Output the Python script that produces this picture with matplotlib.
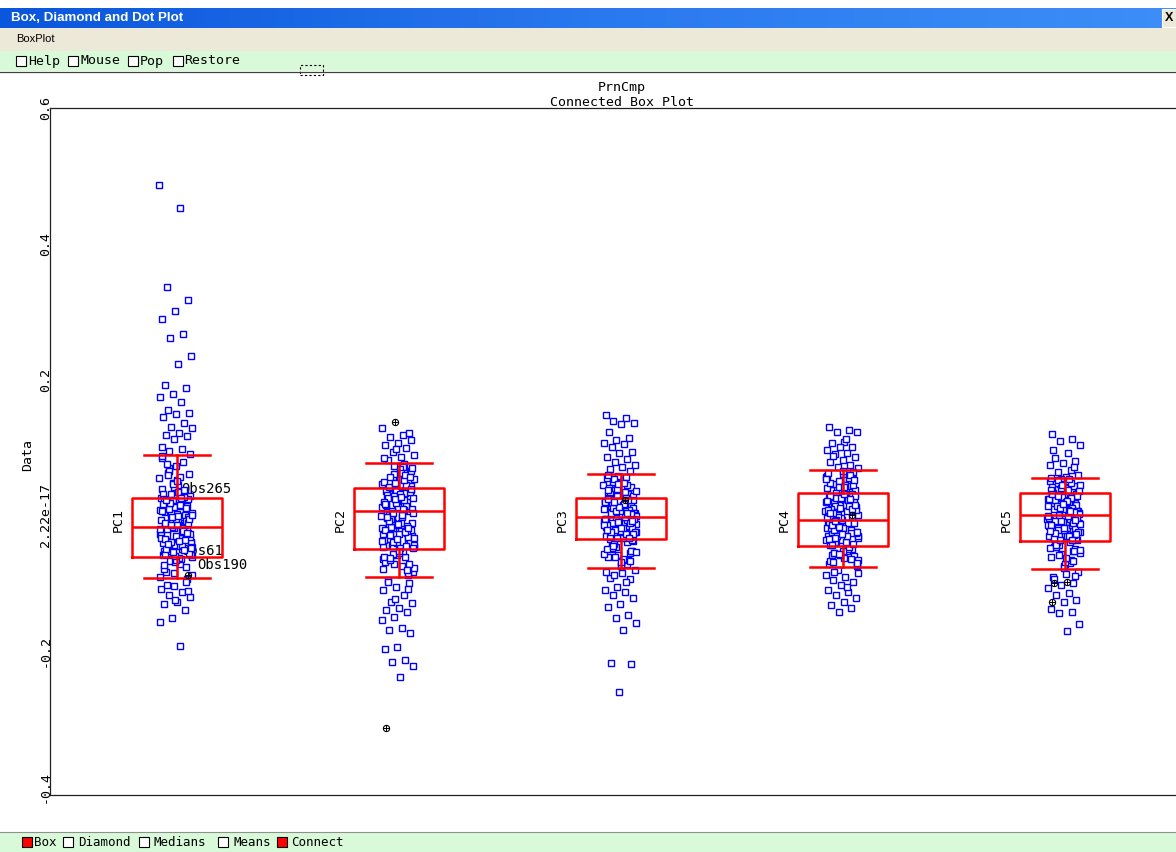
"""Box, Diamond and Dot Plot - recriação do gráfico PrnCmp (Connected Box Plot)."""

import matplotlib
matplotlib.use("Agg")
import matplotlib.pyplot as plt
import numpy as np
from matplotlib.patches import Rectangle

# ---------------------------------------------------------------- dados
GRUPOS = ["PC1", "PC2", "PC3", "PC4", "PC5"]

PC1 = [
    0.487, 0.453, 0.336, 0.317, 0.301, 0.289, 0.267, 0.261, 0.235, 0.223,
    0.192, 0.188, 0.179, 0.174, 0.167, 0.155, 0.151, 0.149, 0.145, 0.136,
    0.130, 0.129, 0.121, 0.118, 0.117, 0.113, 0.101, 0.098, 0.095,
    0.091, 0.052, -0.013, 0.034, -0.047, 0.008, -0.071, 0.063, -0.026, 0.017,
    -0.058, 0.079, -0.004, -0.039, 0.044, -0.083, 0.011, -0.019, 0.026, -0.064,
    0.069, -0.031, 0.002, -0.052, 0.038, -0.009, -0.088, 0.057, -0.022, 0.014,
    -0.043, 0.084, -0.016, -0.067, 0.029, -0.035, 0.005, -0.076, 0.048, -0.028,
    0.021, -0.055, -0.002, 0.073, -0.041, -0.011, 0.032, -0.061, 0.013, -0.024,
    -0.094, 0.041, -0.007, -0.049, 0.066, -0.033, 0.019, -0.079, 0.001, -0.017,
    0.055, -0.045, -0.021, 0.024, -0.069, 0.088, -0.037, 0.007, -0.059, 0.035,
    -0.012, -0.098, 0.046, -0.029, 0.016, -0.053, 0.061, -0.006, -0.073, 0.027,
    -0.039, 0.004, -0.063, 0.076, -0.019, -0.085, 0.039, -0.044, 0.010, -0.027,
    0.050, -0.057, -0.014, 0.022, -0.091, -0.034, 0.059, -0.003, -0.066, 0.031,
    -0.018, 0.003, -0.041, 0.020, -0.050, -0.008, 0.012, -0.033, -0.025, 0.009,
    -0.056, -0.015, 0.024, -0.037, -0.003, -0.046, 0.015, -0.029, -0.011, -0.060,
    0.006, -0.023, 0.018, -0.048, -0.001, -0.035, 0.011, -0.054, -0.020, 0.025,
    -0.042, -0.006, -0.031, 0.017, -0.051, -0.014, 0.001, -0.038, 0.023, -0.026,
    -0.104, -0.109, -0.113, -0.117, -0.121, -0.127, -0.131, -0.140, -0.151,
    -0.157, -0.193, -0.102, -0.112, -0.125,
]

PC2 = [
    0.129, 0.118, 0.116, 0.111, 0.107, 0.104, 0.099, 0.093, 0.089, 0.086,
    0.082, 0.121, 0.097, 0.084,
    0.075, 0.031, -0.012, 0.058, -0.044, 0.019, -0.071, 0.046, -0.003, -0.027,
    0.066, -0.058, 0.011, 0.037, -0.019, -0.083, 0.053, 0.002, -0.036, 0.024,
    -0.065, 0.071, -0.008, 0.043, -0.051, 0.015, -0.024, 0.061, -0.077, 0.034,
    -0.015, 0.007, -0.041, 0.049, -0.062, 0.027, -0.031, 0.068, -0.004, -0.088,
    0.039, 0.012, -0.053, 0.056, -0.021, 0.021, -0.069, 0.044, -0.011, -0.046,
    0.063, 0.004, -0.034, 0.029, -0.079, 0.052, -0.017, 0.009, -0.056, 0.036,
    -0.026, 0.073, -0.001, -0.074, 0.041, -0.039, 0.017, -0.061, 0.059, -0.009,
    0.026, -0.048, 0.005, -0.085, 0.048, -0.029, 0.033, -0.066, 0.065, -0.014,
    -0.043, 0.013, -0.057, 0.054, -0.023, 0.001, -0.072, 0.038, -0.037, 0.022,
    -0.006, 0.069, -0.052, 0.030, -0.081, 0.047, -0.018, 0.010, -0.063, 0.057,
    0.012, -0.021, 0.033, -0.040, 0.003, -0.012, 0.026, -0.032, 0.018, -0.046,
    0.008, -0.005, 0.038, -0.027, 0.015, -0.016, 0.029, -0.043, 0.001, -0.009,
    0.035, -0.035, 0.020, -0.024, 0.006, -0.048, 0.031, -0.002, -0.019, 0.024,
    -0.038, 0.010, -0.029, 0.039, -0.013, 0.016, -0.045, 0.004, -0.033, 0.027,
    -0.095, -0.100, -0.105, -0.110, -0.117, -0.128, -0.129, -0.136, -0.139,
    -0.142, -0.150, -0.154, -0.166, -0.169, -0.173, -0.194, -0.197, -0.213,
    -0.216, -0.222, -0.238, -0.098, -0.108, -0.123,
]

PC3 = [
    0.148, 0.143, 0.139, 0.136, 0.134, 0.123, 0.114, 0.111, 0.107, 0.105,
    0.101, 0.093, 0.092, 0.086, 0.083, 0.079, 0.074, 0.071, 0.068, 0.065,
    0.058, 0.021, -0.011, 0.043, -0.038, 0.009, -0.062, 0.032, -0.004, -0.025,
    0.051, -0.049, 0.014, 0.027, -0.017, -0.071, 0.038, 0.002, -0.031, 0.018,
    -0.055, 0.047, -0.008, 0.035, -0.043, 0.011, -0.021, 0.055, -0.066, 0.024,
    -0.013, 0.005, -0.035, 0.041, -0.058, 0.019, -0.027, 0.049, -0.002, -0.075,
    0.030, 0.008, -0.046, 0.044, -0.019, 0.016, -0.052, 0.033, -0.009, -0.040,
    0.053, 0.003, -0.029, 0.022, -0.068, 0.039, -0.015, 0.006, -0.048, 0.028,
    -0.023, 0.060, -0.001, -0.061, 0.036, -0.033, 0.013, -0.053, 0.046, -0.006,
    0.025, -0.042, 0.004, -0.073, 0.040, -0.026, 0.029, -0.057, 0.052, -0.012,
    -0.037, 0.010, -0.050, 0.045, -0.020, 0.001, -0.064, 0.031, -0.032, 0.017,
    -0.005, 0.057, -0.045, 0.023, -0.069, 0.037, -0.016, 0.007, -0.054, 0.048,
    0.004, -0.018, 0.021, -0.030, -0.007, 0.013, -0.024, 0.000, 0.025, -0.012,
    -0.034, 0.009, -0.003, 0.018, -0.027, 0.006, -0.015, 0.023, -0.021, -0.001,
    0.015, -0.032, 0.002, -0.010, 0.020, -0.028, 0.011, -0.005, -0.019, 0.024,
    -0.033, 0.007, -0.014, 0.017, -0.025, -0.008, 0.012, -0.022, 0.003, 0.019,
    -0.080, -0.085, -0.092, -0.094, -0.105, -0.110, -0.113, -0.117, -0.122,
    -0.131, -0.135, -0.147, -0.151, -0.158, -0.169, -0.217, -0.219, -0.260,
    -0.083, -0.098, -0.088,
]

PC4 = [
    0.130, 0.126, 0.123, 0.122, 0.108, 0.107, 0.101, 0.100, 0.096, 0.092,
    0.090, 0.086, 0.082, 0.079, 0.074, 0.071, 0.070, 0.113, 0.088,
    0.064, 0.027, -0.014, 0.049, -0.041, 0.012, -0.063, 0.037, -0.003, -0.028,
    0.057, -0.052, 0.018, 0.031, -0.021, -0.071, 0.043, 0.004, -0.034, 0.022,
    -0.058, 0.053, -0.009, 0.040, -0.046, 0.014, -0.024, 0.061, -0.067, 0.029,
    -0.016, 0.007, -0.037, 0.046, -0.060, 0.024, -0.030, 0.055, -0.005, -0.074,
    0.034, 0.010, -0.049, 0.050, -0.019, 0.019, -0.055, 0.038, -0.011, -0.043,
    0.059, 0.002, -0.031, 0.026, -0.069, 0.044, -0.017, 0.008, -0.050, 0.033,
    -0.026, 0.066, -0.001, -0.064, 0.041, -0.036, 0.015, -0.056, 0.052, -0.007,
    0.028, -0.044, 0.005, -0.073, 0.045, -0.027, 0.032, -0.059, 0.058, -0.012,
    -0.039, 0.011, -0.053, 0.048, -0.022, 0.000, -0.066, 0.035, -0.033, 0.020,
    -0.004, 0.062, -0.047, 0.025, -0.070, 0.042, -0.018, 0.009, -0.057, 0.054,
    0.006, -0.022, 0.028, -0.036, -0.010, 0.016, -0.030, 0.001, 0.031, -0.015,
    -0.042, 0.011, -0.004, 0.022, -0.033, 0.008, -0.019, 0.029, -0.026, -0.002,
    0.019, -0.039, 0.003, -0.012, 0.025, -0.035, 0.013, -0.007, -0.024, 0.032,
    -0.044, 0.009, -0.017, 0.021, -0.031, -0.009, 0.015, -0.028, 0.004, 0.024,
    -0.080, -0.085, -0.091, -0.095, -0.098, -0.102, -0.110, -0.113, -0.117,
    -0.122, -0.128, -0.132, -0.136, -0.142, -0.088, -0.105, -0.083,
]

PC5 = [
    0.120, 0.113, 0.110, 0.104, 0.092, 0.085, 0.080, 0.077, 0.074, 0.067,
    0.064, 0.060, 0.057, 0.096, 0.071,
    0.053, 0.024, -0.010, 0.041, -0.036, 0.013, -0.061, 0.034, 0.001, -0.024,
    0.049, -0.047, 0.018, 0.029, -0.016, -0.070, 0.039, 0.006, -0.030, 0.021,
    -0.053, 0.046, -0.005, 0.037, -0.041, 0.015, -0.020, 0.051, -0.066, 0.027,
    -0.012, 0.009, -0.033, 0.043, -0.057, 0.023, -0.026, 0.048, 0.002, -0.075,
    0.031, 0.011, -0.044, 0.044, -0.018, 0.019, -0.050, 0.035, -0.007, -0.039,
    0.052, 0.004, -0.028, 0.025, -0.068, 0.040, -0.014, 0.008, -0.046, 0.032,
    -0.022, 0.055, -0.002, -0.059, 0.036, -0.031, 0.016, -0.052, 0.045, -0.004,
    0.026, -0.040, 0.007, -0.072, 0.042, -0.023, 0.030, -0.055, 0.050, -0.009,
    -0.035, 0.012, -0.048, 0.047, -0.019, 0.003, -0.063, 0.033, -0.029, 0.020,
    -0.001, 0.054, -0.043, 0.028, -0.077, 0.038, -0.015, 0.010, -0.051, 0.022,
    0.009, -0.018, 0.027, -0.031, -0.006, 0.017, -0.025, 0.003, 0.030, -0.012,
    -0.036, 0.013, -0.001, 0.022, -0.028, 0.010, -0.015, 0.026, -0.021, 0.002,
    0.019, -0.033, 0.005, -0.009, 0.024, -0.030, 0.014, -0.004, -0.019, 0.031,
    -0.037, 0.011, -0.013, 0.021, -0.026, -0.007, 0.016, -0.023, 0.006, 0.028,
    -0.083, -0.086, -0.091, -0.100, -0.102, -0.107, -0.114, -0.117, -0.125,
    -0.128, -0.138, -0.142, -0.144, -0.160, -0.170, -0.094, -0.089,
]

# estatísticas das caixas
Q1 = [-0.061, -0.049, -0.035, -0.045, -0.038]
MEDIANA = [-0.017, 0.006, -0.002, -0.007, 0.001]
Q3 = [0.026, 0.040, 0.026, 0.033, 0.033]
BIGODE_INF = [-0.092, -0.091, -0.077, -0.076, -0.079]
BIGODE_SUP = [0.089, 0.077, 0.061, 0.067, 0.055]

# observações destacadas (círculos pretos)
DESTAQUE_GRUPO = [1, 2, 2, 3, 4, 5, 5, 5]
DESTAQUE_VALOR = [-0.088, 0.138, -0.313, 0.023, 0.000, -0.100, -0.098, -0.128]

# rótulos de observações em PC1
OBS_ROTULOS = ["Obs265", "Obs61", "Obs190"]
OBS_VALOR = [0.039, -0.052, -0.073]

Y_TICKS = [0.6, 0.4, 0.2, 0.0, -0.2, -0.4]
Y_TICK_ROTULOS = ["0.6", "0.4", "0.2", "2.22e-17", "-0.2", "-0.4"]

# ---------------------------------------------------------------- layout
W, H = 1176, 852
MONO = "DejaVu Sans Mono"
AZUL = "#0000ff"
VERMELHO = "#ff0000"


def fx(x):
    return x / W


def fy(y):
    return 1 - y / H


def retangulo(fig, x0, y0, x1, y1, **kw):
    fig.add_artist(Rectangle((fx(x0), fy(y1)), (x1 - x0) / W, (y1 - y0) / H,
                             transform=fig.transFigure, **kw))


def linha_h(fig, y, x0=0, x1=W, **kw):
    fig.add_artist(plt.Line2D([fx(x0), fx(x1)], [fy(y), fy(y)],
                              transform=fig.transFigure, **kw))


fig = plt.figure(figsize=(W / 100, H / 100), dpi=100)
fig.patch.set_facecolor("white")

# barra de título (gradiente azul estilo XP)
ax_tit = fig.add_axes([0, fy(28), 1, 20 / H])
grad = np.linspace(0, 1, 256).reshape(1, -1)
cmap = matplotlib.colors.LinearSegmentedColormap.from_list("xp", ["#0a56dc", "#2a78ee", "#3d8ef8"])
ax_tit.imshow(grad, aspect="auto", cmap=cmap, extent=(0, 1, 0, 1))
ax_tit.set_axis_off()
fig.text(fx(11), fy(18), "Box, Diamond and Dot Plot", color="white", fontsize=9.6,
         fontweight="bold", family="Liberation Sans", va="center", ha="left")
retangulo(fig, 1162, 9, 1178, 27, facecolor="#ece9d8", edgecolor="#ffffff", lw=0.8)
fig.text(fx(1169), fy(18), "X", fontsize=9, fontweight="bold", family="Liberation Sans",
         va="center", ha="center", color="black")

# menu
retangulo(fig, 0, 28, W, 51, facecolor="#ece9d8", edgecolor="none")
fig.text(fx(16), fy(39.5), "BoxPlot", fontsize=8, family="Liberation Sans",
         va="center", ha="left", color="black")

# barra verde superior
retangulo(fig, 0, 51, W, 71, facecolor="#d8fad8", edgecolor="none")
linha_h(fig, 71.5, color="#404040", lw=0.9)
for rotulo, xc, xt in [("Help", 16, 28), ("Mouse", 68, 80), ("Pop", 128, 140), ("Restore", 173, 184)]:
    retangulo(fig, xc, 56, xc + 10, 66, facecolor="white", edgecolor="black", lw=0.8)
    fig.text(fx(xt), fy(61), rotulo, fontsize=9.5, family=MONO, va="center", ha="left")
retangulo(fig, 300, 65, 323, 75, facecolor="none", edgecolor="black", lw=0.8, linestyle=(0, (2, 2)))

# barra verde inferior
retangulo(fig, 0, 832, W, H, facecolor="#d8fad8", edgecolor="none")
linha_h(fig, 832, color="#909090", lw=0.8)
for rotulo, xc, xt, cor in [("Box", 22, 34, VERMELHO), ("Diamond", 63, 78, "white"),
                            ("Medians", 139, 154, "white"), ("Means", 218, 233, "white"),
                            ("Connect", 277, 291, VERMELHO)]:
    retangulo(fig, xc, 837, xc + 10, 847, facecolor=cor, edgecolor="black", lw=0.8)
    fig.text(fx(xt), fy(842), rotulo, fontsize=9, family=MONO, va="center", ha="left")

# ---------------------------------------------------------------- gráfico
x_esq, x_dir, y_topo, y_base = 50, 1176, 108, 795
ax = fig.add_axes([fx(x_esq), fy(y_base), (x_dir - x_esq) / W, (y_base - y_topo) / H])
ax.set_facecolor("white")

posicoes = np.arange(1, len(GRUPOS) + 1)
ax.set_xlim(1 - 127 / 222, 1 + (x_dir - 177) / 222)
ax.set_ylim(-0.412, 0.6)

series = [PC1, PC2, PC3, PC4, PC5]
for g, (pos, valores) in enumerate(zip(posicoes, series)):
    k = np.arange(len(valores)) + 13 * g
    dx = ((k * 0.6180339887) % 1.0 - 0.5) * 0.15 - 0.005
    ax.plot(pos + dx, valores, linestyle="none", marker="s", markersize=4.2,
            markerfacecolor="white", markeredgecolor=AZUL, markeredgewidth=1.0, zorder=2)

# observações destacadas
dx_dest = [0.05, -0.02, -0.06, 0.02, 0.04, -0.05, 0.01, -0.06]
xd = np.array(DESTAQUE_GRUPO) + np.array(dx_dest)
ax.plot(xd, DESTAQUE_VALOR, linestyle="none", marker="o", markersize=4.5,
        markerfacecolor="none", markeredgecolor="black", markeredgewidth=0.8, zorder=4)
ax.plot(xd, DESTAQUE_VALOR, linestyle="none", marker="+", markersize=4,
        markeredgecolor="black", markeredgewidth=0.7, zorder=4)

estat = [dict(med=m, q1=a, q3=b, whislo=lo, whishi=hi, fliers=[])
         for m, a, b, lo, hi in zip(MEDIANA, Q1, Q3, BIGODE_INF, BIGODE_SUP)]
props = dict(color=VERMELHO, linewidth=1.8)
ax.bxp(estat, positions=posicoes, widths=0.405, capwidths=0.30, showfliers=False,
       boxprops=props, whiskerprops=props, capprops=props, medianprops=props,
       manage_ticks=False, zorder=3)

for rotulo, valor in zip(OBS_ROTULOS, OBS_VALOR):
    x_rot = 1 + (20 if rotulo == "Obs190" else 4) / 222
    ax.text(x_rot, valor, rotulo, fontsize=10, family=MONO, va="center", ha="left", zorder=1)

for pos, nome in zip(posicoes, GRUPOS):
    ax.text(pos - 0.266, -0.007, nome, rotation=90, fontsize=9.5, family=MONO,
            va="center", ha="center")

ax.set_xticks([])
ax.set_yticks(Y_TICKS)
ax.set_yticklabels(Y_TICK_ROTULOS, rotation=90, va="center", fontsize=9.5, family=MONO)
ax.tick_params(axis="y", length=0, pad=-1.5)
ax.spines["right"].set_visible(False)
for lado in ["left", "top", "bottom"]:
    ax.spines[lado].set_color("#202020")
    ax.spines[lado].set_linewidth(0.9)

fig.text(fx(622), fy(87), "PrnCmp", fontsize=9.5, family=MONO, ha="center", va="center")
fig.text(fx(622), fy(103), "Connected Box Plot", fontsize=9.5, family=MONO, ha="center", va="center")
fig.text(fx(28), fy(455), "Data", fontsize=9.5, family=MONO, rotation=90, ha="center", va="center")

fig.savefig("out.png", dpi=100)
